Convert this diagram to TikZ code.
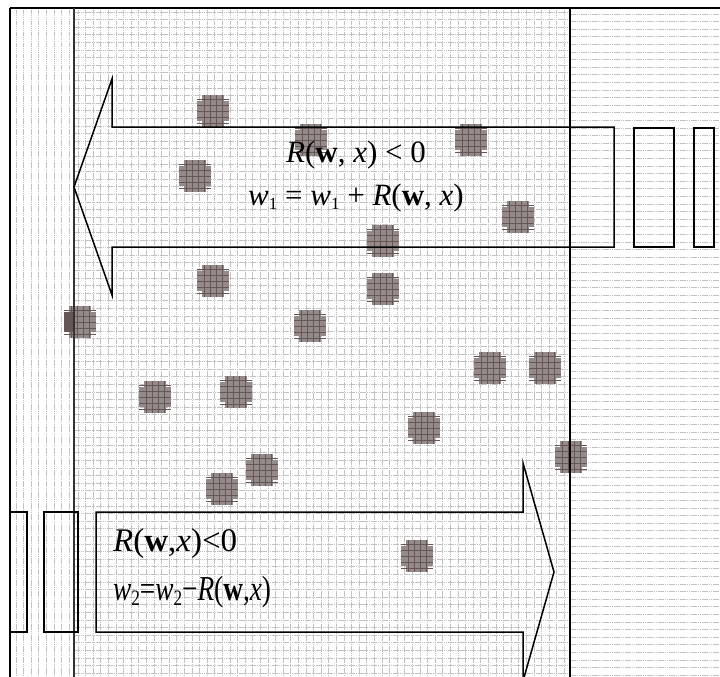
\documentclass[tikz,border=0pt]{standalone}
\usepackage{fontspec}
\setmainfont{Liberation Serif}
\definecolor{gridc}{rgb}{0.76,0.76,0.76}
\definecolor{blobc}{rgb}{0.58,0.54,0.54}
\definecolor{blobd}{rgb}{0.40,0.34,0.34}
\newcommand\myblob[2]{%
  \fill[blobc] (#1-16,#2-10) rectangle (#1+16,#2+10);
  \fill[blobc] (#1-11,#2-16) rectangle (#1+11,#2+16);
  \foreach \k in {-12,-6,0,6,12}{\draw[blobd,line width=0.5pt] (#1-16,#2+\k) -- (#1+16,#2+\k);}
  \foreach \k in {-9,-3,3,9}{\draw[blobd,line width=0.4pt] (#1+\k,#2-16) -- (#1+\k,#2+16);}
}
\newcommand\subs[1]{\raisebox{-0.35ex}{\fontsize{17}{17}\selectfont #1}}
\newcommand\subsb[1]{\raisebox{-0.35ex}{\fontsize{22}{22}\selectfont #1}}
\tikzset{
  gridline/.style={gridc, line width=0.8pt, dash pattern=on 1.5pt off 0.7pt},
  frameline/.style={black, line width=1.6pt},
  arrowline/.style={black, line width=1.5pt, line join=miter},
  formula/.style={inner sep=0pt, font=\fontsize{31}{31}\selectfont},
}
\begin{document}
\begin{tikzpicture}[x=1pt,y=-1pt]
\useasboundingbox (0,0) rectangle (720,677);
\fill[white] (0,0) rectangle (720,677);
% left region: vertical lines
\foreach \x in {16,23.6,...,72}{\draw[gridline] (\x,8) -- (\x,677);}
% middle region: grid
\foreach \x in {78,85.6,...,568}{\draw[gridline] (\x,8) -- (\x,677);}
\foreach \y in {12,19.6,...,677}{\draw[gridline] (74,\y) -- (570,\y);}
% right region: horizontal lines
\foreach \y in {14,21.6,...,677}{\draw[gridline] (570,\y) -- (720,\y);}
% blobs
\myblob{213}{111}
\myblob{311}{140}
\myblob{471}{140}
\myblob{195}{176}
\myblob{518}{217}
\myblob{383}{241}
\myblob{213}{281}
\myblob{383}{289}
\myblob{310}{326}
\myblob{80}{322}
\fill[blobd] (64,312) rectangle (74,332);
\myblob{490}{368}
\myblob{545}{368}
\myblob{155}{397}
\myblob{236}{392}
\myblob{424}{428}
\myblob{571}{457}
\myblob{262}{470}
\myblob{222}{489}
\myblob{417}{556}
% frame and separators
\draw[frameline] (10,8) -- (720,8);
\draw[frameline] (10,8) -- (10,677);
\draw[black!80, line width=1.2pt] (74,8) -- (74,677);
\draw[black, line width=1.4pt] (570,8) -- (570,677);
% top arrow (pointing left)
\draw[arrowline] (614,127) -- (112,127) -- (112,79) -- (74,187) -- (112,295) -- (112,247) -- (614,247) -- cycle;
\draw[arrowline] (634,128) rectangle (674,247);
\draw[arrowline] (694,128) rectangle (714,247);
% bottom arrow (pointing right)
\draw[arrowline] (96,512) -- (523,512) -- (523,463) -- (554,572) -- (523,681) -- (523,632) -- (96,632) -- cycle;
\draw[arrowline] (10,512) rectangle (27,632);
\draw[arrowline] (44,512) rectangle (78,632);
% texts
\node[formula, anchor=base] (t1) at (356,162) {\textit{R}(\textbf{w}, \textit{x}) < 0};
\node[formula, anchor=base] (t2) at (356,205) {\textit{w}\subs{1} = \textit{w}\subs{1} + \textit{R}(\textbf{w}, \textit{x})};
\node[formula, anchor=base west, font=\fontsize{33}{33}\selectfont] (b1) at (113,551) {\textit{R}(\textbf{w},\textit{x})<0};
\node[formula, anchor=base west, font=\fontsize{35}{35}\selectfont] (b2) at (113,600) {\scalebox{0.78}[1]{\textit{w}\subsb{2}=\textit{w}\subsb{2}−\textit{R}(\textbf{w},\textit{x})}};
\end{tikzpicture}
\end{document}
